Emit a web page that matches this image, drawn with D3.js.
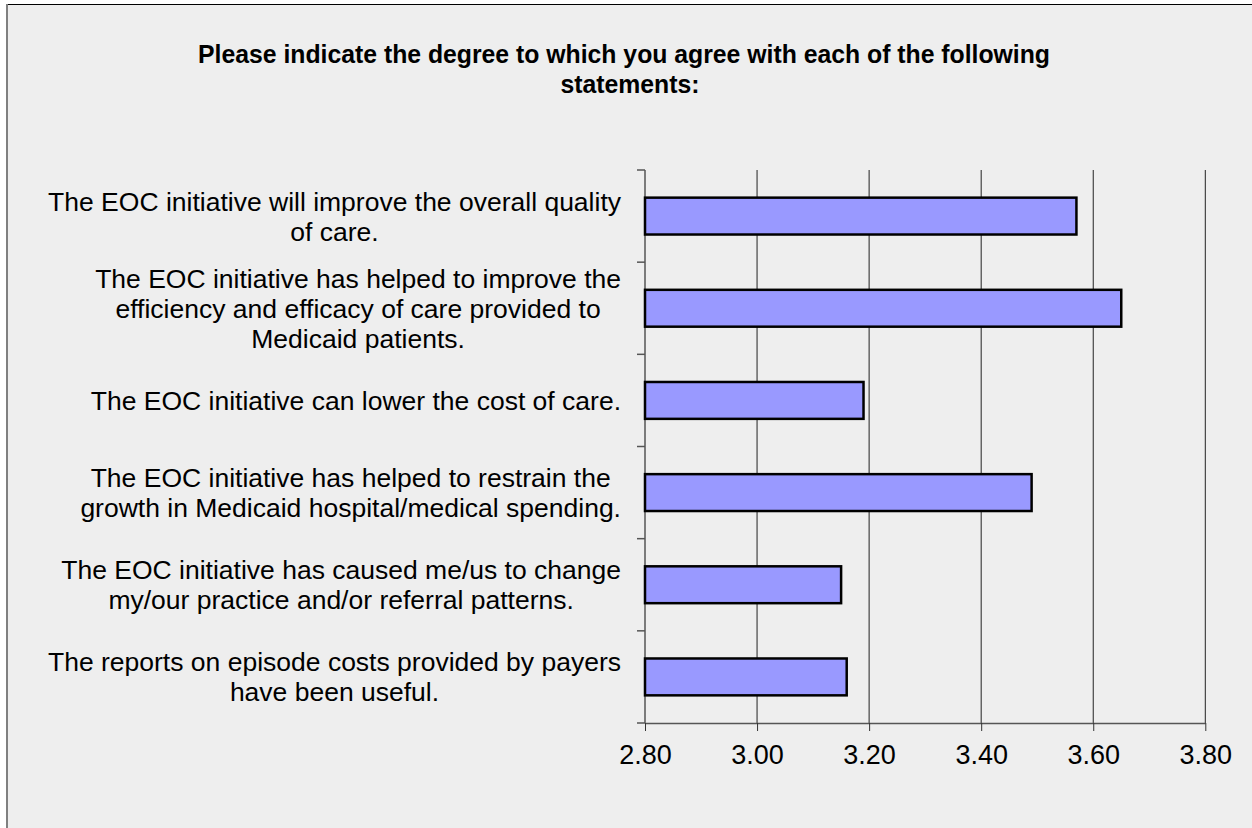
<!DOCTYPE html>
<html>
<head>
<meta charset="utf-8">
<script src="https://cdn.jsdelivr.net/npm/d3@7"></script>
<style>
  html, body { margin: 0; padding: 0; background: #ffffff; }
  svg { display: block; }
  text { font-family: "Liberation Sans", Arial, Helvetica, sans-serif; fill: #000; }
</style>
</head>
<body>
<svg id="chart" width="1252" height="828"></svg>
<script>
// Survey statements (line breaks mark the wrapped label lines)
const categories = [
  "The EOC initiative will improve the overall quality\nof care.",
  "The EOC initiative has helped to improve the\nefficiency and efficacy of care provided to\nMedicaid patients.",
  "The EOC initiative can lower the cost of care.",
  "The EOC initiative has helped to restrain the\ngrowth in Medicaid hospital/medical spending.",
  "The EOC initiative has caused me/us to change\nmy/our practice and/or referral patterns.",
  "The reports on episode costs provided by payers\nhave been useful."
];
// Mean agreement score per statement
const values = [3.57, 3.65, 3.19, 3.49, 3.15, 3.16];
// Value axis ticks
const xTicks = [2.80, 3.00, 3.20, 3.40, 3.60, 3.80];
const titleLines = [
  "Please indicate the degree to which you agree with each of the following",
  "statements:"
];

const svg = d3.select("#chart");

// chart area background and frame
svg.append("rect").attr("x", 7).attr("y", 4).attr("width", 1260).attr("height", 840)
  .attr("fill", "#eeeeee");
svg.append("line").attr("x1", 6).attr("x2", 1252).attr("y1", 4.5).attr("y2", 4.5)
  .attr("stroke", "#000").attr("stroke-width", 1);
svg.append("line").attr("x1", 7).attr("x2", 7).attr("y1", 4).attr("y2", 828)
  .attr("stroke", "#808080").attr("stroke-width", 2);

const plot = { left: 645, right: 1205.3, top: 170, bottom: 723 };

const x = d3.scaleLinear().domain([2.8, 3.8]).range([plot.left, plot.right]);
const y = d3.scaleBand().domain(categories).range([plot.top, plot.bottom])
  .paddingInner(0.6).paddingOuter(0.3);

// vertical gridlines
svg.append("g").selectAll("line").data(xTicks.slice(1)).join("line")
  .attr("x1", d => x(d)).attr("x2", d => x(d))
  .attr("y1", plot.top).attr("y2", plot.bottom)
  .attr("stroke", "#222").attr("stroke-width", 1);

// bottom value axis
const xAxis = svg.append("g")
  .attr("transform", `translate(0,${plot.bottom})`)
  .call(d3.axisBottom(x).tickValues(xTicks).tickFormat(d3.format(".2f"))
    .tickSize(8).tickSizeOuter(0).tickPadding(14));
xAxis.select(".domain").attr("stroke", "#555").attr("stroke-width", 1.5);
xAxis.selectAll(".tick line").attr("stroke", "#333");
xAxis.selectAll(".tick text")
  .style("font-family", "'Liberation Sans', Arial, sans-serif")
  .style("font-size", "27px").attr("fill", "#000");

// left category axis line with ticks at band boundaries
const step = y.step();
const bandStart = y(categories[0]) - step * y.paddingOuter();
const boundaries = d3.range(categories.length + 1).map(i => bandStart + i * step);
svg.append("line").attr("x1", plot.left).attr("x2", plot.left)
  .attr("y1", plot.top).attr("y2", plot.bottom)
  .attr("stroke", "#555").attr("stroke-width", 1.5);
svg.append("g").selectAll("line").data(boundaries).join("line")
  .attr("x1", plot.left - 8).attr("x2", plot.left)
  .attr("y1", d => d).attr("y2", d => d)
  .attr("stroke", "#555").attr("stroke-width", 1.5);

// bars
svg.append("g").selectAll("rect").data(categories).join("rect")
  .attr("x", x(2.8))
  .attr("y", d => y(d))
  .attr("width", (d, i) => x(values[i]) - x(2.8))
  .attr("height", y.bandwidth())
  .attr("fill", "#9999ff")
  .attr("stroke", "#000")
  .attr("stroke-width", 2.5);

// category labels: centered blocks whose widest line ends at the label edge
const labelEdge = 621;
const lineH = 30;
const labels = svg.append("g");
categories.forEach(cat => {
  const lines = cat.split("\n");
  const cy = y(cat) + y.bandwidth() / 2;
  const t = labels.append("text")
    .attr("text-anchor", "middle")
    .style("font-size", "26.5px");
  lines.forEach((ln, i) => {
    t.append("tspan")
      .attr("y", cy + (i - (lines.length - 1) / 2) * lineH + 9.5)
      .text(ln);
  });
  const widths = t.selectAll("tspan").nodes().map(n => n.getComputedTextLength());
  const w = d3.max(widths);
  t.selectAll("tspan").attr("x", labelEdge - w / 2);
});

// title
const title = svg.append("g");
const t1 = title.append("text").attr("x", 624).attr("y", 63)
  .attr("text-anchor", "middle").style("font-size", "25px").style("font-weight", "bold")
  .text(titleLines[0]);
const natural = t1.node().getComputedTextLength();
const factor = 852 / natural;
t1.attr("textLength", 852).attr("lengthAdjust", "spacingAndGlyphs");
const t2 = title.append("text").attr("x", 630).attr("y", 93)
  .attr("text-anchor", "middle").style("font-size", "25px").style("font-weight", "bold")
  .text(titleLines[1]);
const n2 = t2.node().getComputedTextLength();
t2.attr("textLength", n2 * factor).attr("lengthAdjust", "spacingAndGlyphs");
</script>
</body>
</html>
